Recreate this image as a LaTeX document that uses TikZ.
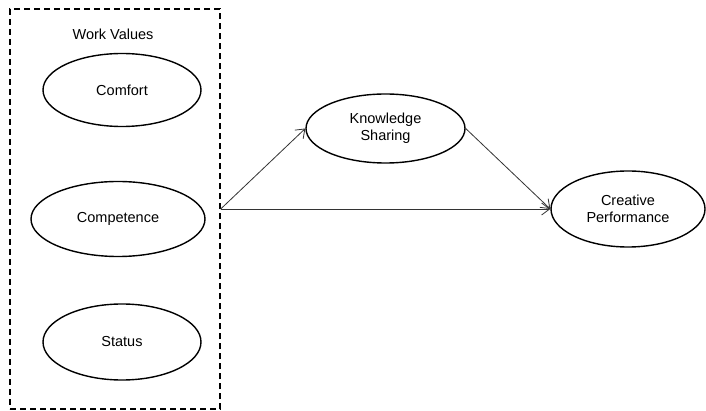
\documentclass[tikz,border=0pt]{standalone}
\usepackage{fontspec}
\setmainfont{Liberation Sans}
\usetikzlibrary{shapes.geometric,arrows.meta}
\begin{document}
\begin{tikzpicture}[x=1pt,y=-1pt,
  construct/.style={ellipse,draw=black,line width=1.4pt,inner sep=0pt,align=center,font=\fontsize{14.5}{17}\selectfont},
  groupbox/.style={draw=black,line width=1.4pt,dash pattern=on 6pt off 4pt,inner sep=0pt},
  path/.style={draw=black!80,line width=0.8pt,-{Straight Barb[length=8pt,width=12pt,line width=0.8pt]}}]
\useasboundingbox[fill=white] (0,0) rectangle (706,411);
\node[groupbox,minimum width=210pt,minimum height=400pt] (box) at (115,209) {};
\node[font=\fontsize{14.5}{17}\selectfont] (wv) at (113,34) {Work Values};
\node[construct,minimum width=158pt,minimum height=73pt] (comfort) at (122,90) {Comfort};
\node[construct,minimum width=174pt,minimum height=75pt] (comp) at (118,219) {Competence};
\node[construct,minimum width=158pt,minimum height=76pt] (status) at (122,342) {Status};
\node[construct,minimum width=159pt,minimum height=69pt] (ks) at (385.5,128.5) {Knowledge\\Sharing};
\node[construct,minimum width=154pt,minimum height=76pt] (cp) at (628,209) {Creative\\Performance};
\draw[path] (box.east) -- (ks.west);
\draw[path] (box.east) -- (cp.west);
\draw[path] (ks.east) -- (cp.west);
\end{tikzpicture}
\end{document}
